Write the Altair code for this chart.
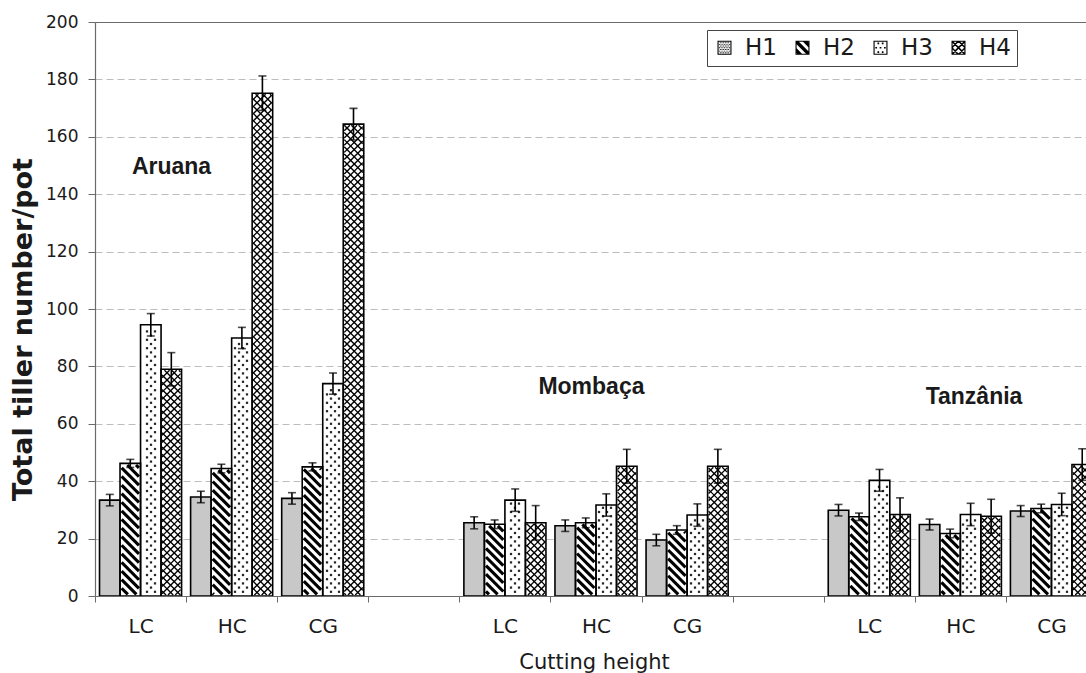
import math

import altair as alt
import pandas as pd

SPECIES = ["Aruana", "Mombaça", "Tanzânia"]
CUTS = ["LC", "HC", "CG"]
SERIES = ["H1", "H2", "H3", "H4"]

# Total tillers per pot, in the order Aruana LC/HC/CG, Mombaça LC/HC/CG, Tanzânia LC/HC/CG
H1_MEAN = [33.4, 34.5, 34.0, 25.5, 24.5, 19.5, 29.9, 24.9, 29.6]
H2_MEAN = [46.2, 44.4, 45.0, 25.0, 25.5, 23.0, 27.6, 21.8, 30.5]
H3_MEAN = [94.5, 89.9, 74.0, 33.4, 31.7, 28.2, 40.3, 28.4, 31.9]
H4_MEAN = [79.0, 175.2, 164.4, 25.5, 45.2, 45.2, 28.4, 27.8, 45.8]

# Half-length of the error bars, same order
H1_ERR = [2.0, 2.0, 2.0, 2.1, 2.0, 2.0, 2.0, 1.9, 1.9]
H2_ERR = [1.4, 1.5, 1.4, 1.5, 1.7, 1.5, 1.3, 1.5, 1.5]
H3_ERR = [3.9, 3.7, 3.7, 3.9, 3.9, 3.9, 3.8, 3.9, 3.9]
H4_ERR = [5.8, 6.0, 5.5, 6.0, 5.9, 5.9, 5.8, 5.9, 5.5]

# Species names written inside the plot: x in category slots, y in tillers/pot
NAME_X = [0.84, 5.45, 9.65]
NAME_Y = [149.5, 72.8, 69.5]

MEANS = [H1_MEAN, H2_MEAN, H3_MEAN, H4_MEAN]
ERRS = [H1_ERR, H2_ERR, H3_ERR, H4_ERR]

# ---- layout -------------------------------------------------------------
W_VIEW, H_VIEW = 991, 574          # visible plot area
N_SLOTS = 11                        # 3 cuts x 3 species + 2 spacer slots
W_FULL = 1002                       # the x range runs past the right edge
Y_MAX = 200
PX_SLOT = W_FULL / N_SLOTS
PX_UNIT = H_VIEW / Y_MAX
PAD_OUT = 0.22                      # outer padding of the H1..H4 sub-bands
STEP = 1 / (len(SERIES) + 2 * PAD_OUT)

SLOTS = []
for k, sp in enumerate(SPECIES):
    if k:
        SLOTS.append(f"gap{k}")
    SLOTS += [f"{sp}|{c}" for c in CUTS]

rows = []
for k, sp in enumerate(SPECIES):
    for ci, cut in enumerate(CUTS):
        slot = f"{sp}|{cut}"
        for j, ser in enumerate(SERIES):
            v = MEANS[j][k * 3 + ci]
            e = ERRS[j][k * 3 + ci]
            rows.append(dict(slot=slot, slot_i=SLOTS.index(slot), series=ser, ser_j=j,
                             value=v, lo=v - e, hi=v + e))
df = pd.DataFrame(rows)


# ---- fill patterns, built from each bar's extent ---------------------------
def bar_box(slot_i, ser_j, top, inset=1.0):
    a = slot_i + (PAD_OUT + ser_j) * STEP
    return (a * PX_SLOT + inset, (a + STEP) * PX_SLOT - inset, inset, top * PX_UNIT - inset)


def hatch(box, slope, period):
    X0, X1, Y0, Y1 = box
    cs = [Y0 - slope * X0, Y0 - slope * X1, Y1 - slope * X0, Y1 - slope * X1]
    out = []
    for k in range(math.floor(min(cs) / period), math.ceil(max(cs) / period) + 1):
        c = k * period
        xa, xb = sorted(((Y0 - c) / slope, (Y1 - c) / slope))
        xa, xb = max(X0, xa), min(X1, xb)
        if xb - xa > 0.4:
            out.append(dict(x=xa / PX_SLOT, y=(slope * xa + c) / PX_UNIT,
                            x2=xb / PX_SLOT, y2=(slope * xb + c) / PX_UNIT))
    return out


def stipple(box, dx, dy):
    X0, X1, Y0, Y1 = box
    out = []
    for r in range(math.ceil(Y0 / dy), math.floor(Y1 / dy) + 1):
        off = (r % 2) * dx / 2
        for q in range(math.ceil((X0 - off) / dx), math.floor((X1 - off) / dx) + 1):
            out.append(dict(x=(q * dx + off) / PX_SLOT, y=r * dy / PX_UNIT))
    return out


stripe_rows, cross_rows, dot_rows = [], [], []
for r in rows:
    if r["series"] == "H2":
        stripe_rows += hatch(bar_box(r["slot_i"], 1, r["value"], 1.6), -1.0, 8.6)
    elif r["series"] == "H3":
        dot_rows += stipple(bar_box(r["slot_i"], 2, r["value"], 2.5), 8.0, 4.2)
    elif r["series"] == "H4":
        box = bar_box(r["slot_i"], 3, r["value"], 1.0)
        cross_rows += hatch(box, -1.0, 7.2) + hatch(box, 1.0, 7.2)
stripes_df = pd.DataFrame(stripe_rows)
cross_df = pd.DataFrame(cross_rows)
dots_df = pd.DataFrame(dot_rows)
names_df = pd.DataFrame(dict(name=SPECIES, x=NAME_X, y=NAME_Y))


# ---- legend swatches as symbol paths in the [-1, 1] box --------------------
def _area(p):
    return sum(a[0] * b[1] - b[0] * a[1] for a, b in zip(p, p[1:] + p[:1])) / 2


def _clip(poly, a):
    def edge(pts, inside, cut):
        res = []
        for i in range(len(pts)):
            cur, prev = pts[i], pts[i - 1]
            if inside(cur):
                if not inside(prev):
                    res.append(cut(prev, cur))
                res.append(cur)
            elif inside(prev):
                res.append(cut(prev, cur))
        return res

    def at_x(xv):
        return lambda p, q: (xv, p[1] + (q[1] - p[1]) * (xv - p[0]) / (q[0] - p[0]))

    def at_y(yv):
        return lambda p, q: (p[0] + (q[0] - p[0]) * (yv - p[1]) / (q[1] - p[1]), yv)

    for inside, cut in [(lambda p: p[0] >= -a, at_x(-a)), (lambda p: p[0] <= a, at_x(a)),
                        (lambda p: p[1] >= -a, at_y(-a)), (lambda p: p[1] <= a, at_y(a))]:
        if not poly:
            break
        poly = edge(poly, inside, cut)
    return poly


def _path(p):
    if _area(p) < 0:
        p = p[::-1]
    return "M" + "L".join(f"{x:.3f},{y:.3f}" for x, y in p) + "Z"


INNER = 0.84
FRAME = _path([(-1, -1), (1, -1), (1, 1), (-1, 1)]) + "M" + "L".join(
    f"{x},{y}" for x, y in [(-INNER, -INNER), (-INNER, INNER), (INNER, INNER), (INNER, -INNER)]) + "Z"


def swatch_bands(slope, period, half):
    parts = []
    for k in range(-4, 5):
        c = k * period
        band = [(-3, -3 * slope + c - half), (3, 3 * slope + c - half),
                (3, 3 * slope + c + half), (-3, -3 * slope + c + half)]
        clipped = _clip(band, INNER)
        if len(clipped) >= 3 and abs(_area(clipped)) > 1e-4:
            parts.append(_path(clipped))
    return "".join(parts)


def swatch_dots(spacing, side):
    parts = []
    n = int(INNER / spacing) + 1
    for r in range(-n, n + 1):
        off = (r % 2) * spacing / 2
        for q in range(-n - 1, n + 1):
            cx, cy = q * spacing + off, r * spacing
            if abs(cx) + side / 2 <= INNER and abs(cy) + side / 2 <= INNER:
                h = side / 2
                parts.append(_path([(cx - h, cy - h), (cx + h, cy - h), (cx + h, cy + h), (cx - h, cy + h)]))
    return "".join(parts)


LEGEND_SHAPES = [
    FRAME + swatch_dots(0.24, 0.13),
    FRAME + swatch_bands(1.0, 1.25, 0.33),
    FRAME + swatch_dots(0.62, 0.24),
    FRAME + swatch_bands(1.0, 0.95, 0.15) + swatch_bands(-1.0, 0.95, 0.15),
]

# ---- scales and axes -------------------------------------------------------
Y_SCALE = alt.Scale(domain=[0, Y_MAX], nice=False, zero=True)
BAND_SCALE = alt.Scale(domain=SLOTS, range=[0, W_FULL], paddingInner=0, paddingOuter=0)
OFFSET = alt.XOffset("series:N", scale=alt.Scale(domain=SERIES, paddingInner=0, paddingOuter=PAD_OUT))
SLOT_Q = alt.Scale(domain=[0, N_SLOTS], range=[0, W_FULL], nice=False, zero=False)
INK = "#1a1a1a"
AXIS_GREY = "#6b6b6b"

x_axis = alt.Axis(
    title="Cutting height", labelExpr="indexof(datum.label, '|') >= 0 ? split(datum.label, '|')[1] : ''",
    tickBand="extent", tickSize=6, tickColor=AXIS_GREY, domainColor=AXIS_GREY, domainWidth=1.2,
    labelAngle=0, labelFont="DejaVu Sans", labelFontSize=20, labelColor=INK,
    labelBaseline="middle", labelPadding=24, grid=False,
    titleFont="DejaVu Sans", titleFontSize=21, titleFontWeight="normal", titleColor=INK,
    titleX=499, titleY=66, titleBaseline="middle", titleAlign="center",
)
y_axis = alt.Axis(
    values=list(range(0, Y_MAX + 1, 20)), tickSize=7, tickColor=AXIS_GREY, domainColor=AXIS_GREY,
    domainWidth=1.2, labelFont="DejaVu Sans", labelFontSize=17, labelColor=INK, labelPadding=10,
    grid=True, gridColor="#bdbdbd", gridDash=[7, 4], gridWidth=1,
    title="Total tiller number/pot", titleFont="DejaVu Sans", titleFontSize=27,
    titleFontWeight="bold", titleColor=INK, titleAngle=270, titleX=-72, titleY=307,
    titleAlign="center", titleBaseline="middle",
)
top_axis = alt.Axis(orient="top", labels=False, ticks=False, grid=False, title=None,
                    domainColor=AXIS_GREY, domainWidth=1.2)


def yq(field):
    # every layer carries the same y scale and axis so they merge into one
    return alt.Y(field, scale=Y_SCALE, axis=y_axis, title="Total tiller number/pot")


base = alt.Chart(df)
x_band = alt.X("slot:N", scale=BAND_SCALE, axis=x_axis, title="Cutting height")
x_plain = alt.X("slot:N", scale=BAND_SCALE, axis=None)

bars_fill = base.mark_bar(clip=True, strokeWidth=0).encode(
    x=x_band, xOffset=OFFSET, y=yq("value:Q"),
    fill=alt.condition("datum.series === 'H1'", alt.value("#c8c8c8"), alt.value("white")),
)

stripes = alt.Chart(stripes_df).mark_rule(clip=True, color="black", strokeWidth=3.1).encode(
    x=alt.X("x:Q", scale=SLOT_Q, axis=top_axis), x2="x2:Q", y=yq("y:Q"), y2="y2:Q",
)
cross = alt.Chart(cross_df).mark_rule(clip=True, color="black", strokeWidth=1.35).encode(
    x=alt.X("x:Q", scale=SLOT_Q, axis=None), x2="x2:Q", y=yq("y:Q"), y2="y2:Q",
)
dots = alt.Chart(dots_df).mark_square(clip=True, color="#262626", size=5, opacity=1).encode(
    x=alt.X("x:Q", scale=SLOT_Q, axis=None), y=yq("y:Q"),
)
names = alt.Chart(names_df).mark_text(font="Liberation Sans", fontSize=23, fontWeight="bold",
                                      color=INK, align="center", baseline="middle").encode(
    x=alt.X("x:Q", scale=SLOT_Q, axis=None), y=yq("y:Q"), text="name:N",
)

outline = base.mark_bar(clip=True, fillOpacity=0, stroke="black", strokeWidth=1.6).encode(
    x=x_plain, xOffset=OFFSET, y=yq("value:Q"),
)
err_rule = base.mark_rule(clip=True, color="black", strokeWidth=1.6).encode(
    x=x_plain, xOffset=OFFSET, y=yq("lo:Q"), y2="hi:Q",
)
cap_lo = base.mark_tick(clip=True, color="black", orient="horizontal", size=8, thickness=1.6).encode(
    x=x_plain, xOffset=OFFSET, y=yq("lo:Q"),
)
cap_hi = base.mark_tick(clip=True, color="black", orient="horizontal", size=8, thickness=1.6).encode(
    x=x_plain, xOffset=OFFSET, y=yq("hi:Q"),
)
legend_marks = base.mark_point(filled=True, size=0, color="black", clip=True).encode(
    x=x_plain, xOffset=OFFSET, y=yq("value:Q"),
    shape=alt.Shape("series:N", scale=alt.Scale(domain=SERIES, range=LEGEND_SHAPES),
                    legend=alt.Legend(
                        orient="none", legendX=612, legendY=8, direction="horizontal", columns=4,
                        title=None, symbolSize=196, symbolFillColor="black", symbolStrokeWidth=0,
                        symbolOpacity=1,
                        labelFont="DejaVu Sans", labelFontSize=23, labelColor=INK, labelOffset=9,
                        columnPadding=14, padding=6, strokeColor="#444", fillColor="white",
                    )),
)

chart = alt.layer(
    bars_fill, stripes, cross, dots, names, outline, err_rule, cap_lo, cap_hi, legend_marks,
).resolve_scale(x="independent").properties(
    width=W_VIEW, height=H_VIEW,
    padding={"left": 95, "top": 22, "right": 0, "bottom": 77},
    autosize=alt.AutoSizeParams(type="none"),
    background="white",
).configure_view(stroke=None)

chart.save("out.html", embed_options={"renderer": "svg", "actions": False})
